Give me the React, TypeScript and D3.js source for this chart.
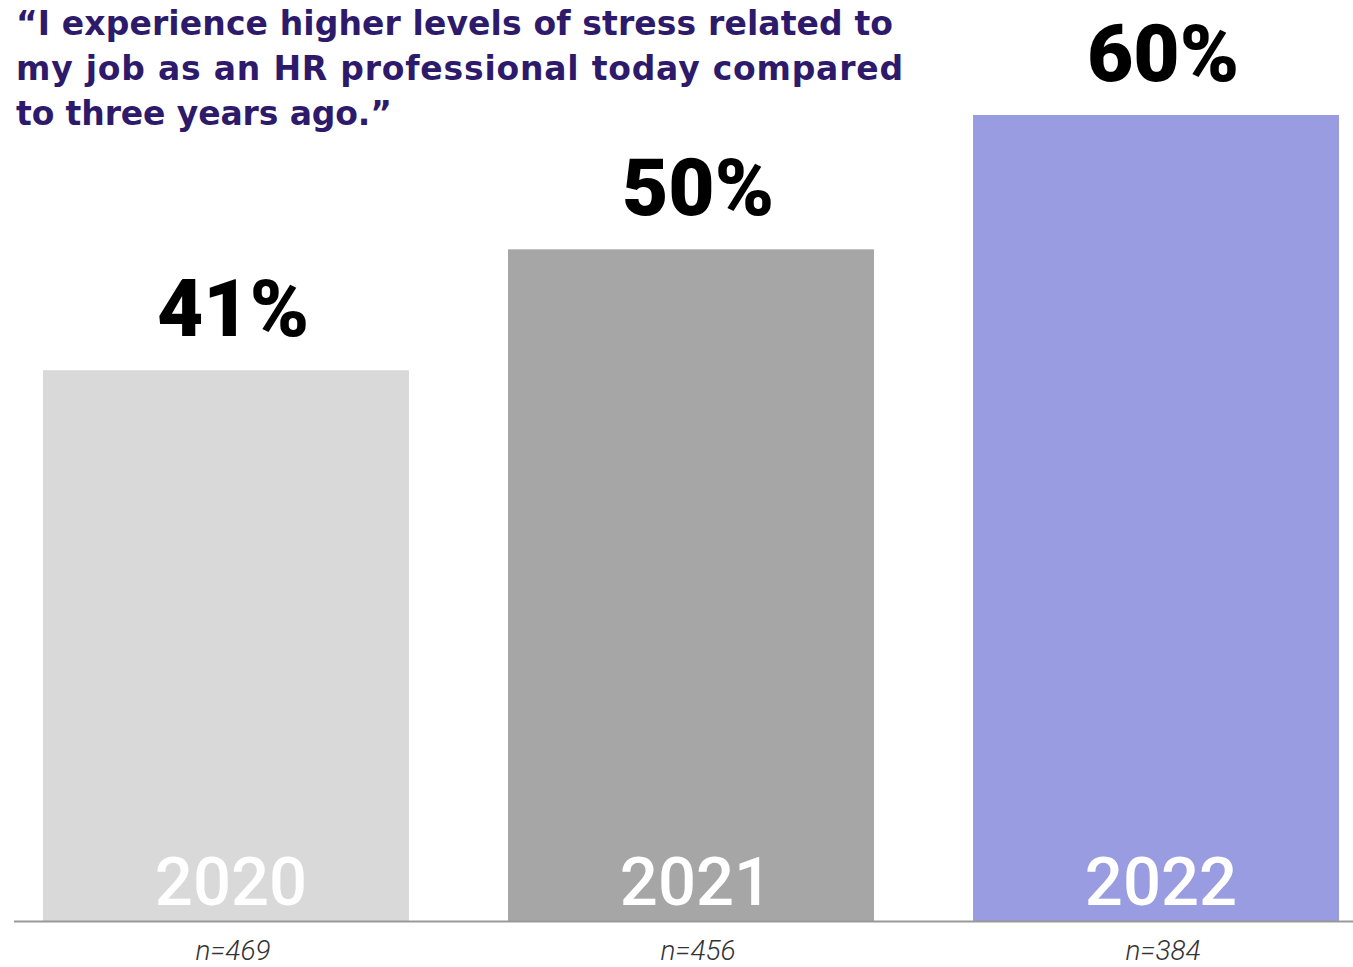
import React from "react";
import * as d3 from "d3";

const years = ["2020", "2021", "2022"];
const values = [41, 50, 60];
const sampleSizes = ["n=469", "n=456", "n=384"];
const barColors = ["#D9D9D9", "#A6A6A6", "#999CE1"];
const titleLines = [
  "“I experience higher levels of stress related to",
  "my job as an HR professional today compared",
  "to three years ago.”",
];
const titleWidths = [877, 887, 376];

const W = 1353;
const H = 967;

export default function App() {
  const x = d3.scaleBand<string>().domain(years).range([43, 1339]).paddingInner(0.213).paddingOuter(0);
  const y = d3.scaleLinear().domain([0, 60]).range([921, 115]);
  const bw = x.bandwidth();
  return (
    <svg width={W} height={H} style={{ position: "absolute", left: 0, top: 0, background: "#fff" }}>
      <g>
        {titleLines.map((t, i) => (
          <text key={i} x={16} y={35 + i * 45} fill="#2E1A6B" fontFamily="'DejaVu Sans', sans-serif" fontWeight={700} fontSize={33} textLength={titleWidths[i]} lengthAdjust="spacing">
            {t}
          </text>
        ))}
      </g>
      {years.map((yr, i) => {
        const x0 = x(yr)!;
        const cx = x0 + bw / 2;
        return (
          <g key={yr}>
            <rect x={x0} y={y(values[i])} width={bw} height={y(0) - y(values[i])} fill={barColors[i]} />
            <text x={cx + 7} y={y(values[i]) - 34} textAnchor="middle" fontFamily="Roboto, sans-serif" fontWeight={900} fontSize={80} fill="#000">
              {values[i]}%
            </text>
            <text x={cx + 5} y={905} textAnchor="middle" fontFamily="Roboto, sans-serif" fontWeight={500} fontSize={67} fill="#fff">
              {yr}
            </text>
            <text x={cx + 7} y={960} textAnchor="middle" fontFamily="Roboto, sans-serif" fontStyle="italic" fontWeight={300} fontSize={28} fill="#333">
              {sampleSizes[i]}
            </text>
          </g>
        );
      })}
      <line x1={14} x2={W} y1={y(0) + 0.5} y2={y(0) + 0.5} stroke="#999" strokeWidth={2} />
    </svg>
  );
}
